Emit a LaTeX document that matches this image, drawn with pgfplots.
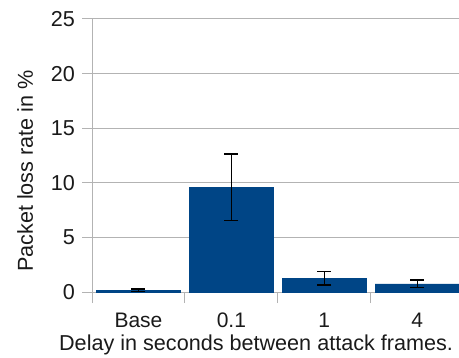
\documentclass[border=0pt]{standalone}
\usepackage{fontspec}
\setmainfont{Liberation Sans}
\usepackage{pgfplots}
\pgfplotsset{compat=1.18}
\definecolor{barblue}{HTML}{004586}
\definecolor{gridgray}{HTML}{B3B3B3}
\definecolor{txt}{HTML}{1A1A1A}
\begin{document}
\fontsize{21.6bp}{26bp}\selectfont
\begin{tikzpicture}
\useasboundingbox (0,0) rectangle (459bp,358bp);
\begin{axis}[
  at={(92bp,66bp)}, anchor=south west,
  scale only axis, width=367bp, height=273bp,
  xmin=-0.5, xmax=3.45, ymin=0, ymax=25,
  axis lines*=left,
  axis line style={draw=gridgray, line width=1bp, -},
  ytick={0,5,...,25},
  ymajorgrids,
  grid style={draw=gridgray, line width=1bp},
  tick style={draw=gridgray, line width=1bp},
  major tick length=10bp,
  tick align=outside,
  y tick label style={anchor=east, inner sep=0pt, text=txt, font=\fontsize{21.6bp}{26bp}\selectfont, xshift=-7bp},
  /pgf/number format/assume math mode=true,
  xtick={0,1,2,3},
  xticklabels={Base,0.1,1,4},
  x tick label style={anchor=base, inner sep=0pt, text depth=0pt, text=txt, font=\fontsize{21bp}{25bp}\selectfont, yshift=-25bp},
  xtick style={draw=none},
  extra x ticks={-0.5,0.5,1.5,2.5},
  extra x tick labels={},
  extra x tick style={grid=none, xtick style={draw=gridgray, line width=1bp}, major tick length=11bp},
  xlabel={Delay in seconds between attack frames.},
  xlabel style={at={([yshift=-58bp]rel axis cs:0.447,0)}, anchor=base, inner sep=0pt, text=txt, font=\fontsize{21.6bp}{26bp}\selectfont},
  ylabel={Packet loss rate in \%},
  ylabel style={at={([xshift=-59bp]rel axis cs:0,0.443)}, anchor=base, inner sep=0pt, text=txt, font=\fontsize{21.6bp}{26bp}\selectfont},
  clip=false,
]
\addplot[ybar, bar width=84bp, fill=barblue, draw=barblue, line width=0.5bp,
  error bars/.cd, y dir=both, y explicit,
  error bar style={black, line width=1.2bp},
  error mark options={black, line width=1.2bp, mark size=7bp, rotate=90}]
  table[x=x, y=y, y error=e] {
  x y e
  0 0.18 0.10
  1 9.60 3.03
  2 1.25 0.60
  3 0.75 0.35
};
\end{axis}
\end{tikzpicture}
\end{document}
